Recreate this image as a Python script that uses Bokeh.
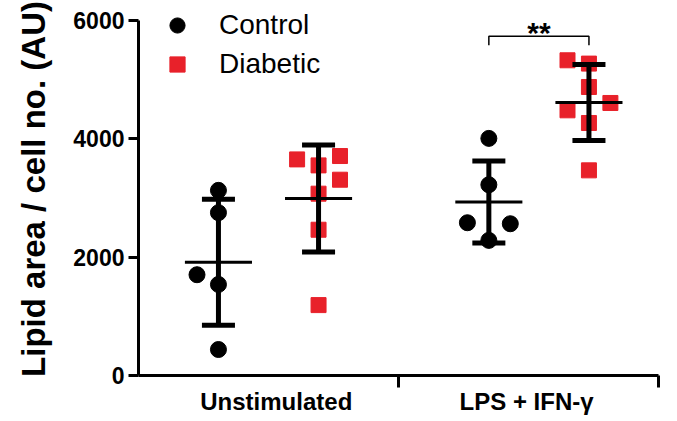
import numpy as np
from bokeh.plotting import figure
from bokeh.models import FixedTicker, Range1d, Legend, LegendItem, ColumnDataSource
from bokeh.embed import file_html
from bokeh.resources import INLINE
from bokeh.core.properties import value

# ---------------- data ----------------
categories = ["Unstimulated", "LPS + IFN-γ"]
series_names = ["Control", "Diabetic"]
ctrl_unstim = [3127, 2750, 1702, 1538, 439]
diab_unstim = [3650, 3549, 3707, 3307, 3071, 2462, 1189]
ctrl_lps = [4005, 3222, 2580, 2563, 2282]
diab_lps = [5324, 5268, 4873, 4603, 4479, 4265, 3465]
y_ticks = [0, 2000, 4000, 6000]
sig_label = "**"

# ---------------- layout / style ----------------
FONT = "Liberation Sans"
RED = "#E8212A"
label_pos = [1.06, 2.985]
group_pos = [1.0, 3.08]
dodge = [-0.385, 0.385]
jit_step = 0.165
jitter = {
    (0, 0): [0, 0, -1, 0, 0],
    (0, 1): [-1, 0, 1, 1, 0, 0, 0],
    (1, 0): [0, 0, -1, 1, 0],
    (1, 1): [-1, 0, 0, 1, -1, 0, 0],
}
values = {(0, 0): ctrl_unstim, (0, 1): diab_unstim, (1, 0): ctrl_lps, (1, 1): diab_lps}

p = figure(width=677, height=421, output_backend="svg", toolbar_location=None,
           x_range=Range1d(0, 4), y_range=Range1d(0, 6300),
           min_border_left=138, min_border_right=19, min_border_top=2, min_border_bottom=46)
p.outline_line_color = None
p.xgrid.visible = False
p.ygrid.visible = False
p.background_fill_color = "white"

renderers = []
for s in range(2):
    xs, ys = [], []
    for c in range(2):
        v = values[(c, s)]
        xc = group_pos[c] + dodge[s]
        xs += [xc + j * jit_step for j in jitter[(c, s)]]
        ys += list(v)
    src = ColumnDataSource(dict(x=xs, y=ys))
    if s == 0:
        r = p.scatter("x", "y", source=src, marker="circle", size=16, color="black")
    else:
        r = p.scatter("x", "y", source=src, marker="square", size=15, color=RED)
    renderers.append(r)

# mean +/- SD
for (c, s), v in values.items():
    xc = group_pos[c] + dodge[s]
    m = float(np.mean(v))
    sd = float(np.std(v, ddof=1))
    p.segment(x0=[xc], y0=[m - sd], x1=[xc], y1=[m + sd], line_width=5, color="black")
    p.segment(x0=[xc - 0.127] * 2, y0=[m - sd, m + sd], x1=[xc + 0.127] * 2, y1=[m - sd, m + sd],
              line_width=5, color="black")
    p.segment(x0=[xc - 0.258], y0=[m], x1=[xc + 0.258], y1=[m], line_width=3, color="black")

# significance bracket over LPS group
xl = group_pos[1] + dodge[0]
xr = group_pos[1] + dodge[1]
p.multi_line(xs=[[xl, xl, xr, xr]], ys=[[5580, 5730, 5730, 5580]], line_width=1.5, color="black")
p.text(x=[(xl + xr) / 2], y=[5800], text=[sig_label], text_font=value(FONT),
       text_font_size="30px", text_font_style="bold", text_align="center",
       text_baseline="middle", text_color="black")

# axes
xa = p.xaxis[0]
xa.ticker = FixedTicker(ticks=label_pos, minor_ticks=[2, 4])
xa.major_label_overrides = {label_pos[0]: categories[0], label_pos[1]: categories[1]}
xa.major_tick_out = 0
xa.major_tick_in = 0
xa.minor_tick_out = 12
xa.minor_tick_in = 0
xa.minor_tick_line_width = 3
xa.minor_tick_line_color = "black"
xa.axis_line_width = 3
xa.axis_line_color = "black"
xa.major_label_text_font = FONT
xa.major_label_text_font_size = "24px"
xa.major_label_text_font_style = "bold"
xa.major_label_text_color = "black"
xa.major_label_standoff = 0

ya = p.yaxis[0]
ya.bounds = (0, 6000)
ya.ticker = FixedTicker(ticks=y_ticks, minor_ticks=[])
ya.major_tick_out = 10
ya.major_tick_in = 0
ya.major_tick_line_width = 3
ya.major_tick_line_color = "black"
ya.axis_line_width = 3
ya.axis_line_color = "black"
ya.major_label_text_font = FONT
ya.major_label_text_font_size = "23px"
ya.major_label_text_font_style = "bold"
ya.major_label_text_color = "black"
ya.major_label_standoff = 4
ya.axis_label = "Lipid area / cell no. (AU)"
ya.axis_label_text_font = FONT
ya.axis_label_text_font_size = "33px"
ya.axis_label_text_font_style = "bold"
ya.axis_label_text_color = "black"
ya.axis_label_standoff = 18

legend = Legend(items=[LegendItem(label=series_names[0], renderers=[renderers[0]]),
                       LegendItem(label=series_names[1], renderers=[renderers[1]])],
                location=(20, 292), glyph_width=38, glyph_height=38, spacing=1,
                padding=3, margin=0, label_standoff=23,
                label_text_font=FONT, label_text_font_size="28px", label_text_color="black",
                border_line_color=None, background_fill_alpha=0)
p.add_layout(legend)

open("out.html", "w").write(file_html(p, INLINE))
